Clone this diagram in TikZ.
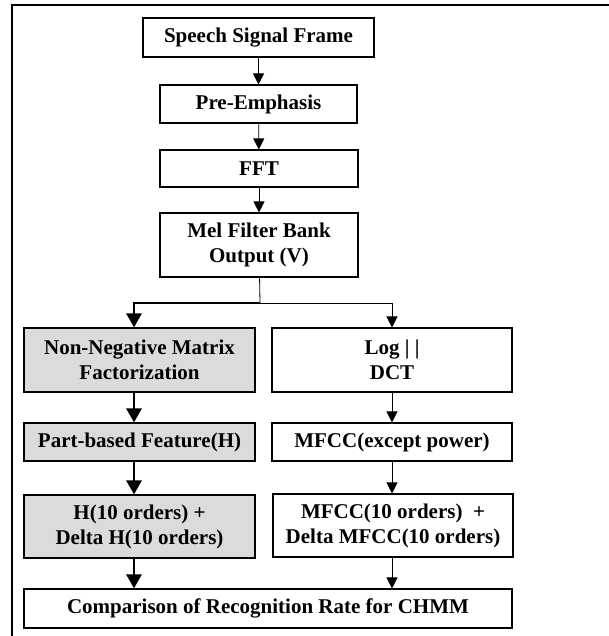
\documentclass[tikz,border=0pt]{standalone}
\usepackage{fontspec}
\setmainfont{Liberation Serif}
\usepackage{tikz}
\usetikzlibrary{positioning, arrows.meta}

\begin{document}
\begin{tikzpicture}[x=1pt,y=-1pt]
		\tikzstyle{box} = [draw, line width=1.1pt, inner sep=0, align=center, font=\fontsize{21}{25}\selectfont\bfseries]
		\tikzstyle{shadebox} = [box, fill=black!14]
		\tikzstyle{thinarrow} = [-{Triangle[width=11pt,length=11pt]}, line width=0.8pt]
		\tikzstyle{thickarrow} = [-{Triangle[width=15pt,length=14pt]}, line width=2.6pt]
		\useasboundingbox (0,0) rectangle (609,636);
		\draw [line width=1.2pt] (12,636) -- (12,5) -- (609,5);
		\node [box, minimum width=231, minimum height=39] (frame) at (258.5,37.5) {Speech Signal Frame};
		\node [box, minimum width=197, minimum height=38] (pre) at (258.5,104) {Pre-Emphasis};
		\node [box, minimum width=198, minimum height=37] (fft) at (259,168.5) {FFT};
		\node [box, minimum width=198, minimum height=64] (mel) at (259,245) {Mel Filter Bank\\Output (V)};
		\node [shadebox, minimum width=231, minimum height=64] (nmf) at (139.5,360) {Non-Negative Matrix\\Factorization};
		\node [box, minimum width=240, minimum height=64] (logdct) at (392,360) {Log \textbar\ \textbar\\DCT};
		\node [shadebox, minimum width=231, minimum height=38] (part) at (139.5,442) {Part-based Feature(H)};
		\node [box, minimum width=240, minimum height=38] (mfcc) at (392,442) {MFCC(except power)};
		\node [shadebox, minimum width=231, minimum height=63] (hdelta) at (139.5,526.5) {H(10 orders) +\\Delta H(10 orders)};
		\node [box, minimum width=240, minimum height=63] (mfccdelta) at (393,525.5) {MFCC(10 orders) \ +\\Delta MFCC(10 orders)};
		\node [box, minimum width=488, minimum height=39] (compare) at (268,608.5) {Comparison of Recognition Rate for CHMM};
		\coordinate (split) at (260,303);
		\coordinate (lft) at (134,303);
		\coordinate (rgt) at (392,303);
		\draw [thinarrow] (frame) -- (pre);
		\draw [thinarrow] (pre) -- (fft);
		\draw [thinarrow] (fft) -- (mel);
		\draw [line width=0.8pt] (mel) -- (split);
		\draw [line width=2.6pt] (split) -- ([xshift=-1.3pt]lft);
		\draw [line width=0.8pt] (split) -- (rgt);
		\draw [thickarrow] (lft) -- (nmf.north -| lft);
		\draw [thinarrow] (rgt) -- (logdct.north -| rgt);
		\draw [thickarrow] (nmf.south -| lft) -- (part.north -| lft);
		\draw [thickarrow] (part.south -| lft) -- (hdelta.north -| lft);
		\draw [thickarrow] (hdelta.south -| lft) -- (compare.north -| lft);
		\draw [thinarrow] (logdct.south -| rgt) -- (mfcc.north -| rgt);
		\draw [thinarrow] (mfcc.south -| rgt) -- (mfccdelta.north -| rgt);
		\draw [thinarrow] (mfccdelta.south -| rgt) -- (compare.north -| rgt);
\end{tikzpicture}
\end{document}
